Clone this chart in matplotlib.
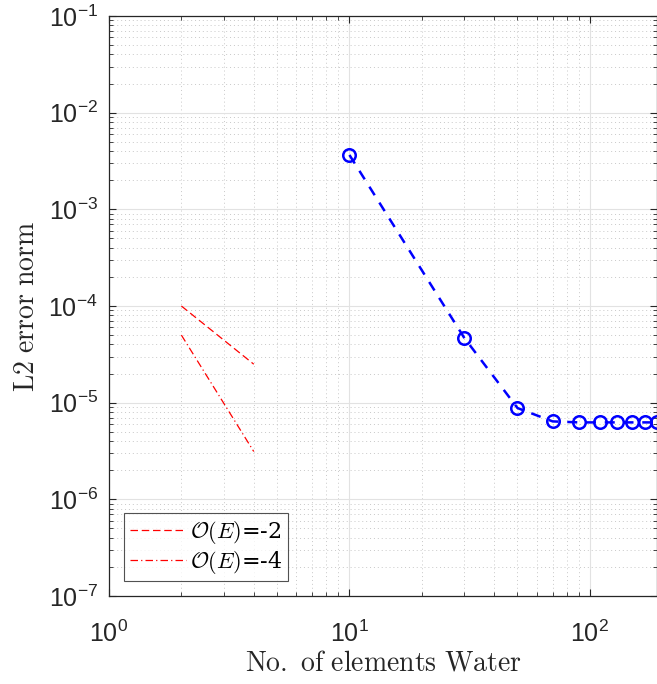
import numpy as np
from matplotlib import pyplot as plt

plt.rcParams['font.family'] = ['Liberation Sans', 'DejaVu Sans']
plt.rcParams['mathtext.fontset'] = 'cm'
plt.rcParams['mathtext.default'] = 'it'

# data
elements = [10, 30, 50, 70, 90, 110, 130, 150, 170, 190]
l2_error = [3.65e-3, 4.7e-5, 8.8e-6, 6.4e-6, 6.25e-6, 6.25e-6, 6.25e-6, 6.25e-6, 6.25e-6, 6.25e-6]
ref_x = [2, 4]
ref2_y = [1e-4, 2.5e-5]
ref4_y = [5e-5, 3.125e-6]

fig = plt.figure(figsize=(6.57, 6.84), dpi=100)
ax = fig.add_axes([109/657, 88/684, 548/657, 580/684])

ax.plot(ref_x, ref2_y, '--', color='red', lw=0.9, dashes=(6, 3), label=r'$\mathcal{O}(E)$=-2')
ax.plot(ref_x, ref4_y, '-.', color='red', lw=0.9, dashes=(6, 2.5, 1, 2.5), label=r'$\mathcal{O}(E)$=-4')
ax.plot(elements, l2_error, '--o', color='blue', lw=1.8, dashes=(4, 3.5),
        markersize=9, markerfacecolor='none', markeredgewidth=1.8)

ax.set_xscale('log')
ax.set_yscale('log')
ax.set_xlim(1, 10**(2 + 67/240))
ax.set_ylim(1e-7, 1e-1)
ax.set_xticks([1, 10, 100])
ax.set_yticks([1e-7, 1e-6, 1e-5, 1e-4, 1e-3, 1e-2, 1e-1])

ax.grid(which='major', color='#e2e2e2', lw=0.8, ls='-')
ax.grid(which='minor', color='#c8c8c8', lw=0.7, ls=(0, (1, 3)))
ax.set_axisbelow(True)

ax.tick_params(which='both', direction='in', top=True, right=True, colors='#262626',
               labelsize=18)
ax.tick_params(axis='y', pad=8)
ax.tick_params(axis='x', pad=18)
ax.tick_params(which='major', length=5)
ax.tick_params(which='minor', length=3)
for s in ax.spines.values():
    s.set_color('#262626')
    s.set_linewidth(0.9)

ax.set_xlabel(r'$\mathrm{No.\ of\ elements\ Water}$', fontsize=20, color='#262626', labelpad=2)
ax.set_ylabel(r'$\mathrm{L2\ error\ norm}$', fontsize=20, color='#262626', labelpad=6)

leg = ax.legend(loc='lower left', frameon=True, fancybox=False,
                edgecolor='#262626', handlelength=2.5, borderpad=0.25,
                handletextpad=0.2, labelspacing=0.15,
                prop={'family': 'DejaVu Serif', 'size': 16},
                bbox_to_anchor=(0.008, 0.006))
leg.get_frame().set_linewidth(0.8)

plt.savefig('out.png', dpi=100)
